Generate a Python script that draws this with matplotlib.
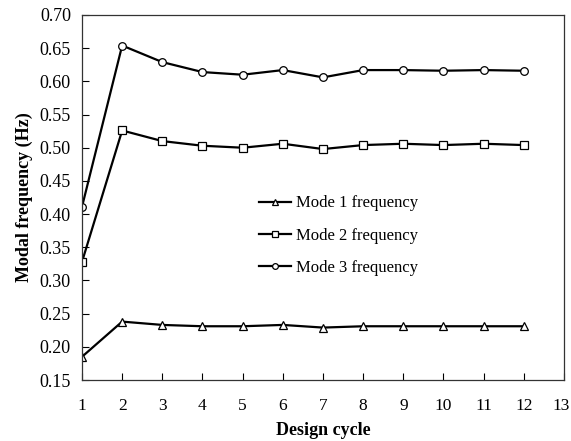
import matplotlib
matplotlib.use("Agg")
import matplotlib.pyplot as plt
import matplotlib.transforms as mtransforms

cycles = list(range(1, 13))
mode1 = [0.185, 0.238, 0.233, 0.231, 0.231, 0.233, 0.229, 0.231, 0.231, 0.231, 0.231, 0.231]
mode2 = [0.328, 0.526, 0.510, 0.503, 0.500, 0.506, 0.498, 0.504, 0.506, 0.504, 0.506, 0.504]
mode3 = [0.411, 0.654, 0.629, 0.614, 0.610, 0.617, 0.606, 0.617, 0.617, 0.616, 0.617, 0.616]
labels = ["Mode 1 frequency", "Mode 2 frequency", "Mode 3 frequency"]

plt.rcParams["font.family"] = ["Liberation Serif", "DejaVu Serif"]

fig = plt.figure(figsize=(5.71, 4.41), dpi=100)
ax = fig.add_axes([0.1436, 0.1383, 0.8441, 0.8277])

style = dict(color="black", linewidth=1.6, markerfacecolor="white",
             markeredgecolor="black", markeredgewidth=0.9, markersize=5.5)
ax.plot(cycles, mode1, marker="^", label=labels[0], **style)
ax.plot(cycles, mode2, marker="s", label=labels[1], **style)
ax.plot(cycles, mode3, marker="o", label=labels[2], **style)

ax.set_xlim(1, 13)
ax.set_ylim(0.15, 0.70)
ax.set_xticks(range(1, 14))
ax.set_yticks([0.15 + 0.05 * i for i in range(12)])
ax.set_yticklabels([f"{0.15 + 0.05 * i:.2f}" for i in range(12)])
ax.tick_params(axis="x", direction="in", length=5, pad=13, labelsize=12.5)
ax.tick_params(axis="y", direction="in", length=5, pad=8, labelsize=13)
for s in ax.spines.values():
    s.set_linewidth(0.9)
    s.set_color("#333333")

# keep the last x label ("13") inside the figure edge
last = ax.get_xticklabels()[-1]
last.set_transform(last.get_transform() +
                   mtransforms.ScaledTranslation(-3 / 100, 0, fig.dpi_scale_trans))

ax.set_xlabel("Design cycle", fontsize=13, fontweight="bold", labelpad=6)
ax.set_ylabel("Modal frequency (Hz)", fontsize=13, fontweight="bold", labelpad=5)

ax.legend(loc="upper left", bbox_to_anchor=(0.337, 0.547), frameon=False,
          fontsize=12, handlelength=1.9, labelspacing=0.98, handletextpad=0.3,
          markerscale=0.75)

fig.savefig("out.png", dpi=100)
